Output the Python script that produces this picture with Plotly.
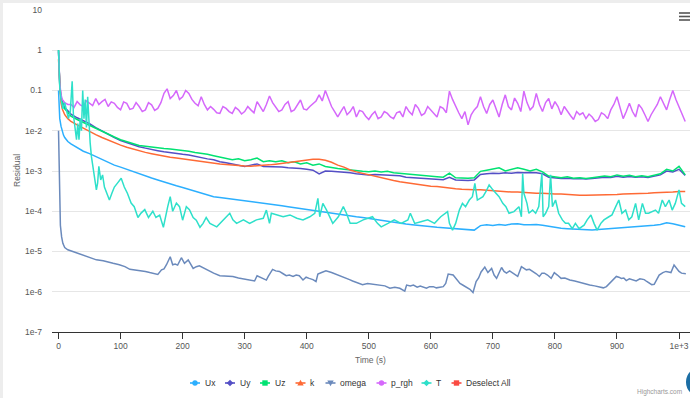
import plotly.graph_objects as go

# ---------------- data ----------------
time_s = [0, 1, 2, 4, 6, 8, 10, 15,
          20, 30, 40, 50, 60, 70, 80, 90,
          100, 110, 120, 130, 140, 150, 160, 170, 180, 190,
          200, 210, 220, 230, 240, 250, 260, 270, 280, 290,
          300, 310, 320, 330, 340, 350, 360, 370, 380, 390,
          400, 410, 420, 430, 440, 450, 460, 470, 480, 490,
          500, 510, 520, 530, 540, 550, 560, 570, 580, 590,
          600, 610, 620, 630, 640, 650, 660, 670, 680, 690,
          700, 710, 720, 730, 740, 750, 760, 770, 780, 790,
          800, 810, 820, 830, 840, 850, 860, 870, 880, 890,
          900, 910, 920, 930, 940, 950, 960, 970, 980, 990,
          1000, 1010]

ux = [0.1, 0.04, 0.02, 0.013, 0.0095, 0.0078, 0.0068, 0.0054,
      0.0047, 0.0038, 0.0031, 0.0027, 0.0023, 0.0019, 0.0016, 0.0014,
      0.00125, 0.0011, 0.00095, 0.00083, 0.00074, 0.00067, 0.0006, 0.00053, 0.00048, 0.00043,
      0.00039, 0.00035, 0.00031, 0.00028, 0.00025, 0.00023, 0.00022, 0.00021, 0.0002, 0.000195,
      0.000188, 0.00018, 0.00017, 0.00016, 0.000152, 0.000144, 0.000137, 0.00013, 0.000123, 0.000116,
      0.00011, 0.000104, 0.000098, 0.000093, 0.000089, 0.000084, 0.00008, 0.000077, 0.000073, 0.00007,
      0.000066, 0.000062, 0.000059, 0.000056, 0.000053, 0.00005, 0.000048, 0.000046, 0.000044, 0.000043,
      0.000042, 0.00004, 0.000039, 0.000038, 0.000037, 0.000036, 0.000035, 0.000034, 0.000044, 0.000046,
      0.000044, 0.000047, 0.000045, 0.000048, 0.000049, 0.000046, 0.000046, 0.000047, 0.000045, 0.000042,
      0.00004, 0.000038, 0.000037, 0.000036, 0.000035, 0.000035, 0.000034, 0.000035, 0.000036, 0.000036,
      0.000037, 0.000038, 0.000039, 0.000041, 0.000042, 0.000043, 0.000045, 0.000047, 0.000052, 0.000049,
      0.000045, 0.000041]

uy = [1.0, 0.4, 0.14, 0.07, 0.052, 0.044, 0.038, 0.031,
      0.026, 0.021, 0.018, 0.015, 0.012, 0.0098, 0.0082, 0.0068,
      0.0057, 0.005, 0.0044, 0.004, 0.0037, 0.0034, 0.0032, 0.003, 0.0029, 0.0028,
      0.0026, 0.0025, 0.0023, 0.0022, 0.002, 0.0019, 0.0017, 0.0016, 0.0015, 0.0014,
      0.0013, 0.0014, 0.0015, 0.0013, 0.0013, 0.0013, 0.00125, 0.0012, 0.0012, 0.00115,
      0.0011, 0.00105, 0.00085, 0.001, 0.00098, 0.00096, 0.00094, 0.0009, 0.00086, 0.00083,
      0.0008, 0.00082, 0.0008, 0.00078, 0.00077, 0.00076, 0.0007, 0.00068, 0.00066, 0.00064,
      0.00063, 0.00062, 0.00061, 0.0007, 0.0006, 0.00059, 0.00058, 0.0006, 0.00082, 0.00085,
      0.00088, 0.00087, 0.0009, 0.00088, 0.00092, 0.0009, 0.00092, 0.0009, 0.00085, 0.0007,
      0.00066, 0.00065, 0.00066, 0.00064, 0.00065, 0.00063, 0.00065, 0.00068, 0.0007, 0.00069,
      0.00074, 0.0007, 0.00073, 0.0007, 0.00072, 0.00069, 0.00074, 0.0008, 0.001, 0.00095,
      0.0011, 0.00078]

uz = [1.0, 0.4, 0.13, 0.065, 0.048, 0.04, 0.035, 0.028,
      0.023, 0.019, 0.016, 0.0135, 0.0115, 0.0095, 0.0082, 0.007,
      0.006, 0.0053, 0.0047, 0.0043, 0.0041, 0.0039, 0.0037, 0.0036, 0.0035, 0.0034,
      0.0033, 0.0031, 0.0029, 0.0028, 0.0026, 0.0024, 0.0022, 0.0021, 0.0019, 0.002,
      0.0018, 0.0019, 0.0021, 0.0017, 0.0018, 0.0017, 0.0018, 0.0016, 0.0017, 0.0015,
      0.0016, 0.0014, 0.0015, 0.0013, 0.0012, 0.00115, 0.0011, 0.00105, 0.001, 0.00098,
      0.00096, 0.001, 0.00095, 0.00098, 0.0009, 0.00087, 0.00082, 0.0008, 0.00078, 0.00075,
      0.00073, 0.00072, 0.0007, 0.00088, 0.00068, 0.00067, 0.00066, 0.00068, 0.00098, 0.00105,
      0.0011, 0.0012, 0.001, 0.0011, 0.0012, 0.0011, 0.001, 0.0011, 0.00095, 0.00075,
      0.0007, 0.00068, 0.00072, 0.00066, 0.00068, 0.00065, 0.00068, 0.0007, 0.00075, 0.00072,
      0.0008, 0.00074, 0.00078, 0.00072, 0.00076, 0.00072, 0.00078, 0.00085, 0.0011, 0.001,
      0.0013, 0.0008]

k = [0.6, 0.25, 0.1, 0.05, 0.035, 0.028, 0.025, 0.02,
     0.017, 0.014, 0.0115, 0.0095, 0.008, 0.0068, 0.0058, 0.005,
     0.0044, 0.0039, 0.0035, 0.0032, 0.0029, 0.0027, 0.0025, 0.0023, 0.0022, 0.0021,
     0.002, 0.00188, 0.00178, 0.0017, 0.0016, 0.00155, 0.0015, 0.00145, 0.0014, 0.00136,
     0.00133, 0.00132, 0.00134, 0.00138, 0.00142, 0.00148, 0.00155, 0.00163, 0.0017, 0.00182,
     0.00192, 0.00196, 0.00195, 0.00185, 0.00165, 0.0014, 0.00125, 0.00106, 0.00095, 0.00087,
     0.0008, 0.00074, 0.00068, 0.00063, 0.00058, 0.00054, 0.00051, 0.00048, 0.00046, 0.00044,
     0.00042, 0.00041, 0.00039, 0.00037, 0.00036, 0.00035, 0.00034, 0.00034, 0.00034, 0.00033,
     0.00032, 0.00031, 0.00031, 0.0003, 0.0003, 0.00029, 0.00029, 0.00028, 0.00028, 0.00027,
     0.00027, 0.00027, 0.00026, 0.00026, 0.00025, 0.00025, 0.00025, 0.00025, 0.00026, 0.00026,
     0.00026, 0.00027, 0.00027, 0.00028, 0.00028, 0.00028, 0.00029, 0.00029, 0.0003, 0.0003,
     0.00031, 0.00031]

p_rgh_t = [0, 1, 2, 4, 6, 8, 10, 15,
           20, 25, 30, 35, 40, 45, 50, 55, 60, 65, 70, 75, 80, 85, 90, 95,
           100, 105, 110, 115, 120, 125, 130, 135, 140, 145, 150, 155, 160, 165, 170, 175, 180, 185, 190, 195,
           200, 205, 210, 215, 220, 225, 230, 235, 240, 245, 250, 255, 260, 265, 270, 275, 280, 285, 290, 295,
           300, 305, 310, 315, 320, 325, 330, 335, 340, 345, 350, 355, 360, 365, 370, 375, 380, 385, 390, 395,
           400, 405, 410, 415, 420, 425, 430, 435, 440, 445, 450, 455, 460, 465, 470, 475, 480, 485, 490, 495,
           500, 505, 510, 515, 520, 525, 530, 535, 540, 545, 550, 555, 560, 565, 570, 575, 580, 585, 590, 595,
           600, 605, 610, 615, 620, 625, 630, 635, 640, 645, 650, 655, 660, 665, 670, 675, 680, 685, 690, 695,
           700, 705, 710, 715, 720, 725, 730, 735, 740, 745, 750, 755, 760, 765, 770, 775, 780, 785, 790, 795,
           800, 805, 810, 815, 820, 825, 830, 835, 840, 845, 850, 855, 860, 865, 870, 875, 880, 885, 890, 895,
           900, 905, 910, 915, 920, 925, 930, 935, 940, 945, 950, 955, 960, 965, 970, 975, 980, 985, 990, 995,
           1000, 1005, 1010]
p_rgh = [0.9, 0.3, 0.15, 0.08, 0.06, 0.055, 0.05, 0.045,
         0.045, 0.038, 0.053, 0.044, 0.040, 0.055, 0.048, 0.042, 0.063, 0.045, 0.053, 0.060, 0.040, 0.052, 0.048, 0.038,
         0.033, 0.052, 0.048, 0.034, 0.036, 0.050, 0.040, 0.030, 0.033, 0.050, 0.044, 0.032, 0.036, 0.050, 0.085, 0.110, 0.063, 0.075, 0.10, 0.060,
         0.070, 0.100, 0.085, 0.060, 0.048, 0.042, 0.070, 0.045, 0.033, 0.040, 0.034, 0.028, 0.027, 0.040, 0.036, 0.030, 0.027, 0.038, 0.033, 0.026,
         0.030, 0.040, 0.033, 0.028, 0.053, 0.040, 0.030, 0.045, 0.073, 0.050, 0.040, 0.030, 0.033, 0.045, 0.053, 0.030, 0.033, 0.045, 0.058, 0.035,
         0.033, 0.040, 0.048, 0.055, 0.078, 0.055, 0.10, 0.060, 0.040, 0.030, 0.022, 0.030, 0.040, 0.025, 0.030, 0.040, 0.022, 0.032, 0.030, 0.023,
         0.019, 0.025, 0.030, 0.020, 0.022, 0.030, 0.027, 0.022, 0.020, 0.028, 0.030, 0.022, 0.040, 0.030, 0.025, 0.045, 0.036, 0.024, 0.027, 0.040,
         0.033, 0.026, 0.022, 0.040, 0.036, 0.028, 0.096, 0.060, 0.040, 0.028, 0.020, 0.030, 0.014, 0.025, 0.033, 0.040, 0.070, 0.040, 0.027, 0.045,
         0.058, 0.035, 0.022, 0.045, 0.078, 0.040, 0.033, 0.065, 0.048, 0.030, 0.096, 0.050, 0.033, 0.040, 0.085, 0.045, 0.030, 0.050, 0.063, 0.035,
         0.053, 0.040, 0.025, 0.040, 0.030, 0.024, 0.019, 0.030, 0.025, 0.028, 0.020, 0.026, 0.022, 0.017, 0.019, 0.028, 0.025, 0.020, 0.033, 0.045,
         0.070, 0.035, 0.020, 0.030, 0.048, 0.030, 0.022, 0.045, 0.036, 0.025, 0.017, 0.025, 0.033, 0.045, 0.070, 0.050, 0.033, 0.060, 0.10, 0.060,
         0.040, 0.025, 0.017]

omega_t = [0, 1, 2, 3, 5, 7, 10, 15, 23, 30, 45, 55, 61, 72, 80, 88, 98, 107, 115, 122,
           131, 140, 147, 155, 160, 166, 170, 174, 180, 184, 188, 192, 198, 203, 209, 217,
           222, 227, 235, 243, 250, 260, 270, 281, 290, 302, 310, 316, 320, 327, 335, 338,
           345, 350, 356, 362, 367, 372, 378, 383, 388, 394, 399, 404, 410, 415, 418, 424,
           431, 440, 447, 455, 464, 469, 474, 482, 490, 498, 506, 518, 526, 534, 542, 550,
           558, 561, 567, 572, 578, 583, 588, 593, 598, 604, 609, 615, 620, 624, 628, 636,
           642, 647, 652, 657, 663, 668, 673, 677, 681, 687, 692, 698, 702, 706, 710, 714,
           718, 722, 727, 732, 736, 740, 746, 750, 754, 759, 765, 770, 775, 779, 783, 788,
           794, 799, 804, 810, 816, 824, 832, 840, 848, 856, 864, 872, 878, 883, 888, 894,
           899, 903, 907, 911, 915, 920, 926, 931, 937, 944, 948, 952, 956, 960, 964, 968,
           974, 979, 983, 987, 992, 996, 1000, 1004, 1008, 1011]
omega = [1e-2, 1e-3, 1e-4, 4.5e-5, 2.3e-5, 1.6e-5, 1.25e-5, 1.1e-5, 1.0e-5, 9.2e-6,
         7.8e-6, 6.8e-6, 6.2e-6, 5.9e-6, 5.6e-6, 5.1e-6, 4.7e-6, 4.2e-6, 3.6e-6, 3.5e-6,
         3.4e-6, 3.2e-6, 3.0e-6, 2.85e-6, 2.7e-6, 3.5e-6, 3.7e-6, 4.7e-6, 7.4e-6, 4.7e-6,
         4.9e-6, 4.6e-6, 7.0e-6, 5.1e-6, 6.2e-6, 3.8e-6, 4.2e-6, 4.4e-6, 3.8e-6, 3.2e-6,
         2.9e-6, 2.5e-6, 2.45e-6, 2.4e-6, 2.2e-6, 2.0e-6, 1.95e-6, 1.85e-6, 2.5e-6, 2.2e-6,
         1.95e-6, 2.4e-6, 3.6e-6, 3.3e-6, 3.2e-6, 2.8e-6, 2.5e-6, 2.6e-6, 2.4e-6, 2.6e-6,
         2.5e-6, 1.96e-6, 2.3e-6, 2.15e-6, 2.0e-6, 1.8e-6, 2.75e-6, 3.0e-6, 3.3e-6, 3.0e-6,
         2.75e-6, 2.4e-6, 2.15e-6, 2.0e-6, 1.85e-6, 1.7e-6, 1.5e-6, 1.6e-6, 1.55e-6, 1.47e-6,
         1.4e-6, 1.22e-6, 1.3e-6, 1.22e-6, 1.04e-6, 1.47e-6, 1.4e-6, 1.47e-6, 1.3e-6, 1.39e-6,
         1.3e-6, 1.22e-6, 1.34e-6, 1.34e-6, 1.25e-6, 1.29e-6, 1.34e-6, 1.6e-6, 2.75e-6, 2.6e-6,
         2.0e-6, 1.6e-6, 1.45e-6, 1.29e-6, 1.15e-6, 9.6e-7, 1.8e-6, 2.2e-6, 3.1e-6, 4.1e-6,
         3.0e-6, 3.8e-6, 2.6e-6, 2.15e-6, 2.9e-6, 4.0e-6, 3.2e-6, 2.9e-6, 3.3e-6, 2.9e-6,
         2.6e-6, 2.4e-6, 4.2e-6, 3.8e-6, 3.5e-6, 3.6e-6, 3.2e-6, 2.8e-6, 2.4e-6, 2.9e-6,
         2.9e-6, 2.6e-6, 2.15e-6, 3.0e-6, 2.6e-6, 2.15e-6, 2.2e-6, 1.96e-6, 1.85e-6, 1.7e-6,
         1.6e-6, 1.47e-6, 1.4e-6, 1.29e-6, 1.25e-6, 1.34e-6, 1.6e-6, 2.0e-6, 2.4e-6, 2.3e-6,
         2.15e-6, 2.2e-6, 1.9e-6, 2.1e-6, 2.0e-6, 1.85e-6, 2.1e-6, 2.0e-6, 1.8e-6, 1.6e-6,
         1.5e-6, 1.53e-6, 2.0e-6, 2.6e-6, 3.0e-6, 3.2e-6, 3.1e-6, 3.0e-6, 4.6e-6, 3.8e-6,
         3.2e-6, 2.9e-6, 2.8e-6, 2.8e-6]

temp_t = [0, 1, 2, 4, 7, 10, 13, 16, 19, 22, 24, 27, 29, 31, 33, 35, 37, 39, 41, 43,
          45, 47, 49, 51, 53, 56, 58, 61, 63, 65, 68, 71, 74, 77, 82, 86, 90, 95, 101, 106,
          111, 117, 122, 128, 133, 139, 145, 152, 157, 163, 169, 176, 180, 184, 190, 195, 200, 206, 211, 217,
          222, 228, 233, 238, 244, 255, 265, 276, 281, 287, 298, 308, 319, 330, 335, 340, 343, 351, 362, 373,
          384, 394, 405, 413, 418, 421, 426, 432, 437, 442, 451, 459, 464, 470, 480, 491, 500, 506, 514, 520,
          531, 541, 552, 563, 567, 574, 584, 595, 606, 616, 627, 630, 635, 640, 646, 651, 656, 662, 667, 671,
          675, 684, 689, 694, 700, 705, 710, 716, 721, 726, 734, 742, 746, 748, 750, 755, 758, 764, 769, 774,
          779, 781, 785, 790, 793, 796, 801, 806, 812, 817, 822, 828, 833, 839, 847, 852, 858, 863, 868, 874,
          879, 887, 892, 898, 903, 908, 914, 919, 924, 930, 935, 941, 946, 951, 957, 962, 967, 973, 978, 984,
          989, 994, 1000, 1004, 1010]
temp = [1.0, 0.4, 0.12, 0.06, 0.035, 0.05, 0.03, 0.02, 0.03, 0.17, 0.025, 0.009, 0.006, 0.015, 0.006, 0.02, 0.01, 0.1, 0.02, 0.06,
        0.012, 0.07, 0.012, 0.005, 0.0023, 0.0011, 0.0006, 0.00034, 0.0005, 0.0013, 0.0006, 0.0008, 0.0004, 0.0003, 0.00019, 0.00028, 0.0004, 0.0005, 0.00066, 0.0004,
        0.00028, 0.00016, 0.00013, 0.00007, 0.00009, 0.00011, 0.00007, 0.0001, 0.00007, 0.00008, 0.00004, 0.00013, 0.00023, 0.0001, 0.00016, 0.00013, 0.00006, 0.00013, 0.00011, 0.00007,
        0.00006, 0.00004, 0.00005, 0.00007, 0.00005, 0.000041, 0.000061, 0.000089, 0.000061, 0.00005, 0.000061, 0.00005, 0.000061, 0.000067, 0.000107, 0.00005, 0.000089, 0.000081, 0.000073, 0.000081,
        0.000067, 0.000061, 0.000073, 0.000089, 0.00021, 0.000073, 0.000157, 0.000107, 0.000073, 0.00005, 0.000073, 0.00013, 0.000089, 0.00005, 0.00005, 0.000061, 0.000068, 0.000073, 0.00005, 0.000041,
        0.00005, 0.000061, 0.00005, 0.000061, 0.000089, 0.00005, 0.000055, 0.000061, 0.00005, 0.000073, 0.000098, 0.00005, 0.000034, 0.00005, 0.000107, 0.000157, 0.00013, 0.00019, 0.00023, 0.00049,
        0.00019, 0.00023, 0.00031, 0.00045, 0.00034, 0.00028, 0.00023, 0.000157, 0.00013, 0.000089, 0.000098, 0.00013, 0.000073, 0.00087, 0.00028, 0.000157, 0.000089, 0.000107, 0.000089, 0.00013,
        0.00087, 0.000073, 0.000089, 0.00013, 0.0008, 0.00013, 0.00019, 0.000089, 0.000061, 0.00005, 0.00005, 0.000037, 0.00005, 0.000037, 0.000045, 0.000061, 0.000081, 0.00005, 0.000034, 0.00005,
        0.000061, 0.000073, 0.000081, 0.00013, 0.00019, 0.000089, 0.000107, 0.000061, 0.000073, 0.000157, 0.000061, 0.000157, 0.000089, 0.000089, 0.000098, 0.000107, 0.000089, 0.00019, 0.00013, 0.00019,
        0.000107, 0.000157, 0.00034, 0.000157, 0.00013]

series_names = ["Ux", "Uy", "Uz", "k", "omega", "p_rgh", "T"]
series_colors = ["#2caffe", "#544fc5", "#00e272", "#fe6a35", "#6b8abc", "#d568fb", "#2ee0ca"]
legend_names = ["Ux", "Uy", "Uz", "k", "omega", "p_rgh", "T", "Deselect All"]
legend_colors = ["#2caffe", "#544fc5", "#00e272", "#fe6a35", "#6b8abc", "#d568fb", "#2ee0ca", "#fa4b42"]
legend_symbols = ["circle", "diamond", "square", "triangle-up", "triangle-down", "circle", "diamond", "square"]

x_ticks = [0, 100, 200, 300, 400, 500, 600, 700, 800, 900, 1000]
x_ticktext = ["0", "100", "200", "300", "400", "500", "600", "700", "800", "900", "1e+3"]
y_ticks = [10, 1, 0.1, 1e-2, 1e-3, 1e-4, 1e-5, 1e-6, 1e-7]
y_ticktext = ["10", "1", "0.1", "1e-2", "1e-3", "1e-4", "1e-5", "1e-6", "1e-7"]

# ---------------- figure ----------------
W, H = 690, 398
ML, MR, MT, MB = 52, 0, 10, 66
PW, PH = W - ML - MR, H - MT - MB


def px_x(p):
    return (p - ML) / PW


def px_y(p):
    return (H - MB - p) / PH


FONT = "Liberation Sans, Arial, sans-serif"

xs = [time_s, time_s, time_s, time_s, omega_t, p_rgh_t, temp_t]
ys = [ux, uy, uz, k, omega, p_rgh, temp]

fig = go.Figure()
for name, color, x, y in zip(series_names, series_colors, xs, ys):
    fig.add_trace(go.Scatter(x=x, y=y, mode="lines", name=name,
                             line=dict(color=color, width=1.5),
                             showlegend=False, hoverinfo="skip"))

shapes = [
    # page frame (light grey strips on top and left)
    dict(type="rect", xref="paper", yref="paper", x0=px_x(0), x1=px_x(W), y0=px_y(3), y1=px_y(0),
         fillcolor="#ededed", line=dict(width=0), layer="below"),
    dict(type="rect", xref="paper", yref="paper", x0=px_x(0), x1=px_x(3), y0=px_y(H), y1=px_y(0),
         fillcolor="#ededed", line=dict(width=0), layer="below"),
    # blue round button at bottom right
    dict(type="circle", xref="paper", yref="paper", x0=px_x(686), x1=px_x(716), y0=px_y(397), y1=px_y(367),
         fillcolor="#1c6ea4", line=dict(width=0)),
]
# hamburger menu icon
for yy in (13, 16.5, 20):
    shapes.append(dict(type="line", xref="paper", yref="paper", x0=px_x(679), x1=px_x(690),
                       y0=px_y(yy), y1=px_y(yy), line=dict(color="#555555", width=1.6)))

annotations = [
    dict(text="Time (s)", xref="paper", yref="paper", x=px_x(370), y=px_y(360),
         xanchor="center", yanchor="middle", showarrow=False,
         font=dict(family=FONT, size=8.5, color="#666666")),
    dict(text="Residual", xref="paper", yref="paper", x=px_x(17), y=px_y(171),
         xanchor="center", yanchor="middle", showarrow=False, textangle=-90,
         font=dict(family=FONT, size=8.5, color="#666666")),
    dict(text="Highcharts.com", xref="paper", yref="paper", x=px_x(684), y=px_y(392),
         xanchor="right", yanchor="middle", showarrow=False,
         font=dict(family=FONT, size=6.5, color="#999999")),
]

# ---- Highcharts-style legend row (symbol line + marker + label) ----
LEG_Y = 383
leg_line_x = [190, 225, 260, 295.5, 325.5, 376.5, 421.5, 451.5]
SYM_LEN = 10


def marker_shape(sym, cx, cy, color):
    r = 2.7
    if sym == "circle":
        return dict(type="circle", xref="paper", yref="paper", x0=px_x(cx - r), x1=px_x(cx + r),
                    y0=px_y(cy + r), y1=px_y(cy - r), fillcolor=color, line=dict(width=0))
    if sym == "square":
        return dict(type="rect", xref="paper", yref="paper", x0=px_x(cx - r), x1=px_x(cx + r),
                    y0=px_y(cy + r), y1=px_y(cy - r), fillcolor=color, line=dict(width=0))
    if sym == "diamond":
        pts = [(cx, cy - 3.3), (cx + 3.3, cy), (cx, cy + 3.3), (cx - 3.3, cy)]
    elif sym == "triangle-up":
        pts = [(cx, cy - 3.2), (cx + 3.2, cy + 2.6), (cx - 3.2, cy + 2.6)]
    else:
        pts = [(cx, cy + 3.2), (cx + 3.2, cy - 2.6), (cx - 3.2, cy - 2.6)]
    path = "M " + " L ".join(f"{px_x(a):.5f},{px_y(b):.5f}" for a, b in pts) + " Z"
    return dict(type="path", xref="paper", yref="paper", path=path, fillcolor=color, line=dict(width=0))


for name, color, sym, lx in zip(legend_names, legend_colors, legend_symbols, leg_line_x):
    shapes.append(dict(type="line", xref="paper", yref="paper", x0=px_x(lx), x1=px_x(lx + SYM_LEN),
                       y0=px_y(LEG_Y), y1=px_y(LEG_Y), line=dict(color=color, width=1.6)))
    shapes.append(marker_shape(sym, lx + SYM_LEN / 2, LEG_Y, color))
    annotations.append(dict(text=name, xref="paper", yref="paper", x=px_x(lx + SYM_LEN + 2.5), y=px_y(LEG_Y),
                            xanchor="left", yanchor="middle", showarrow=False,
                            font=dict(family=FONT, size=8.5, color="#333333")))

fig.update_layout(
    width=W, height=H,
    margin=dict(l=ML, r=MR, t=MT, b=MB, pad=0),
    paper_bgcolor="white", plot_bgcolor="white",
    font=dict(family=FONT, size=8.5, color="#333333"),
    showlegend=False,
    xaxis=dict(range=[-10.5, 1017.7], tickmode="array", tickvals=x_ticks, ticktext=x_ticktext,
               showgrid=False, zeroline=False, showline=True, linecolor="#333333", linewidth=1,
               ticks="outside", ticklen=6, tickcolor="#333333", tickwidth=1,
               tickfont=dict(family=FONT, size=8.5, color="#555555"), automargin=False),
    yaxis=dict(type="log", range=[-7, 1], tickmode="array", tickvals=y_ticks, ticktext=y_ticktext,
               showgrid=True, gridcolor="#e6e6e6", gridwidth=1, zeroline=False, showline=False,
               ticks="", ticklabelstandoff=9,
               tickfont=dict(family=FONT, size=8.5, color="#555555"), automargin=False),
    shapes=shapes,
    annotations=annotations,
)

fig.write_html("out.html", config={"displayModeBar": False},
               post_script="document.body.style.margin='0px';document.body.style.overflow='hidden';")
